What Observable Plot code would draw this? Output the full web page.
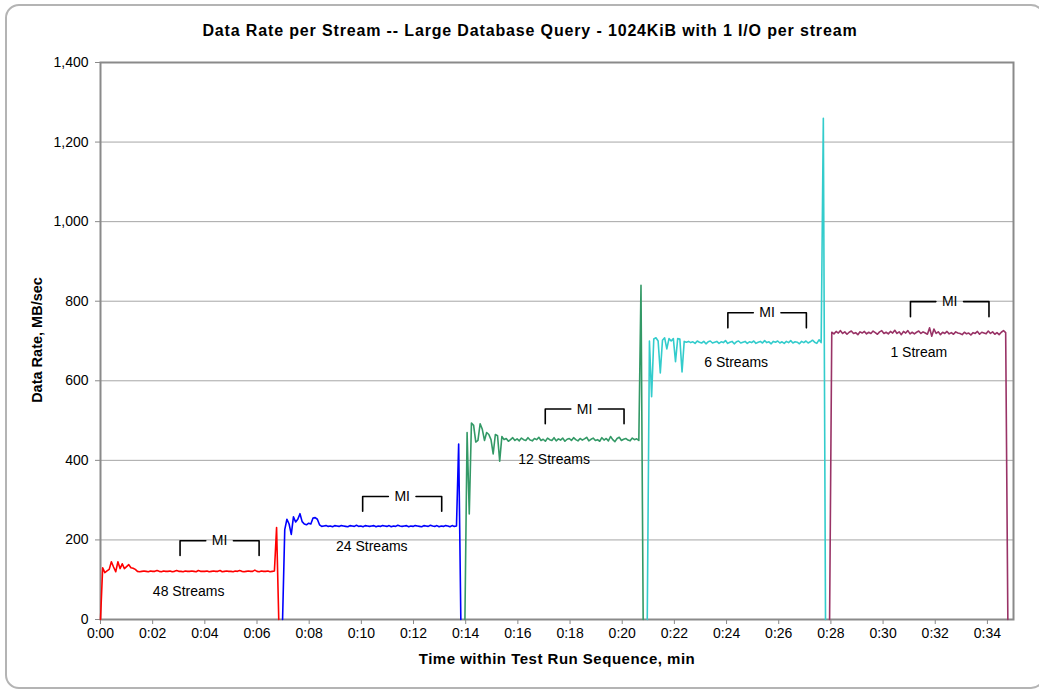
<!DOCTYPE html>
<html><head><meta charset="utf-8">
<script src="https://cdn.jsdelivr.net/npm/d3@7"></script>
<script src="https://cdn.jsdelivr.net/npm/@observablehq/plot@0.6"></script>
<style>
body{margin:0;background:#fff;font-family:"Liberation Sans",Arial,sans-serif;}
#wrap{position:relative;width:1039px;height:690px;overflow:hidden;background:#fff;}
#border{position:absolute;left:5px;top:4px;width:1040px;height:685px;border:2px solid #b4b4b4;border-radius:14px;box-sizing:border-box;}
#title{position:absolute;top:21px;left:0;width:1060px;text-align:center;font-weight:bold;font-size:16px;letter-spacing:0.85px;line-height:20px;}
#xlab{position:absolute;top:650px;left:0;width:1114px;text-align:center;font-weight:bold;font-size:15px;letter-spacing:0.5px;line-height:18px;}
#ylab{position:absolute;left:37px;top:340px;transform:translate(-50%,-50%) rotate(-90deg);white-space:nowrap;font-weight:bold;font-size:14.5px;line-height:18px;}
#chart{position:absolute;left:0;top:0;}
</style>
</head><body>
<div id="wrap">
  <div id="border"></div>
  <div id="chart"></div>
  <div id="title">Data Rate per Stream -- Large Database Query - 1024KiB with 1 I/O per stream</div>
  <div id="xlab">Time within Test Run Sequence, min</div>
  <div id="ylab">Data Rate, MB/sec</div>
</div>
<script>
// ---- data ----
const seriesNames = ["48 Streams", "24 Streams", "12 Streams", "6 Streams", "1 Stream"];
const seriesColors = ["#ff0000", "#0000ff", "#339966", "#33cccc", "#993366"];
const seriesStart = [0, 6.98, 13.97, 20.96, 27.95]; // minutes
const sampleStep = 1 / 12; // 5 s samples, minutes

const red = [0,130,118,122,126,145,132,120,145,128,140,128,133,138,130,129,126,121,
  120,121,122,121,120,122,121,121,123,121,
  120,122,121,121,122,120,121,123,121,121,
  120,122,121,121,122,121,120,123,121,121,
  121,122,120,121,122,121,121,123,120,121,
  122,121,121,120,122,121,123,121,120,121,
  122,121,121,124,121,120,122,121,121,122,
  120,121,122,
  231,0];
const blue = [0,226,252,240,214,258,245,252,266,246,240,238,242,240,255,256,252,238,
  234,235,236,234,235,233,236,235,234,236,
  235,234,233,236,235,234,237,234,235,233,
  236,235,234,235,236,233,235,234,236,235,
  234,236,233,235,234,237,235,234,235,236,
  233,235,234,236,235,234,233,236,235,234,
  237,235,234,236,233,235,234,236,235,233,
  236,234,235,
  441,0];
const green = [0,470,265,494,488,446,450,492,478,450,470,465,452,416,465,462,398,460,452,
  455,448,452,457,450,454,449,456,452,450,
  457,451,449,455,452,458,450,453,448,456,
  452,450,457,449,454,451,456,448,453,455,
  450,457,452,449,455,451,454,458,449,453,
  456,450,452,448,457,451,455,449,460,452,
  447,455,458,450,453,455,451,449,456,452,
  454,450,
  840,0];
const cyan = [0,700,560,705,708,700,620,702,708,680,706,700,706,648,706,705,622,699,697,
  699,696,698,694,700,697,695,699,693,698,
  700,695,697,699,694,698,696,701,694,697,
  699,693,698,700,695,697,699,694,698,696,
  700,694,697,699,695,701,696,698,693,699,
  697,700,695,698,694,699,696,701,695,698,
  697,693,699,696,700,695,698,702,697,694,
  703,696,
  1260,0];
const maroon = [0,
  722,718,724,720,726,719,723,717,722,725,
  719,721,716,723,720,724,718,722,719,725,
  721,717,723,726,719,722,718,724,720,727,
  719,723,716,724,720,726,718,722,718,722,
  725,719,723,720,717,733,712,730,719,723,
  716,722,719,724,718,721,717,723,720,719,
  716,722,718,720,715,721,719,724,717,722,
  720,718,725,719,723,717,721,716,722,726,721,
  0];
const seriesValues = [red, blue, green, cyan, maroon];

// measurement-interval brackets
const miStart = [3.05, 10.05, 17.05, 24.05, 31.05];
const miEnd = [6.08, 13.08, 20.07, 27.06, 34.06];
const miTop = [198, 309, 529, 771, 799];
const miBottom = [161, 272, 492, 733, 761];
const miLabel = "MI";

// series labels
const labelX = [3.38, 10.4, 17.39, 24.37, 31.37];
const labelY = [71, 183, 401, 646, 670];

// axis ticks
const xTicks = [0,2,4,6,8,10,12,14,16,18,20,22,24,26,28,30,32,34];
const yTicks = [0,200,400,600,800,1000,1200,1400];

// ---- build tables ----
const rows = [];
seriesNames.forEach((name, s) => {
  seriesValues[s].forEach((v, i) => rows.push({series: name, t: seriesStart[s] + i * sampleStep, v}));
});
const miGap = 0.53;
const bracketRows = [];
miStart.forEach((a, k) => {
  const b = miEnd[k], m = (a + b) / 2;
  bracketRows.push({id: k + "L", t: a, v: miBottom[k]}, {id: k + "L", t: a, v: miTop[k]}, {id: k + "L", t: m - miGap, v: miTop[k]});
  bracketRows.push({id: k + "R", t: m + miGap, v: miTop[k]}, {id: k + "R", t: b, v: miTop[k]}, {id: k + "R", t: b, v: miBottom[k]});
});
const miRows = miStart.map((a, k) => ({t: (a + miEnd[k]) / 2, v: miTop[k]}));
const labelRows = seriesNames.map((n, k) => ({name: n, t: labelX[k], v: labelY[k]}));

const font = "Liberation Sans, Arial, sans-serif";
const chart = Plot.plot({
  width: 1039, height: 690,
  marginLeft: 100, marginRight: 26, marginTop: 62, marginBottom: 71,
  style: {fontFamily: font, background: "transparent", color: "#000"},
  x: {domain: [0, 35]},
  y: {domain: [0, 1400]},
  color: {domain: seriesNames, range: seriesColors},
  marks: [
    Plot.ruleY(yTicks.filter(d => d > 0), {stroke: "#a6a6a6", strokeWidth: 1}),
    Plot.axisX(xTicks, {tickFormat: d => "0:" + String(d).padStart(2, "0"), tickSize: 5, tickPadding: 4, stroke: "#8a8a8a", fill: "#000", fontSize: 14, label: null}),
    Plot.axisY(yTicks, {tickFormat: d3.format(","), tickSize: 5, tickPadding: 7, stroke: "#8a8a8a", fill: "#000", fontSize: 14, label: null}),
    Plot.frame({stroke: "#8a8a8a", strokeWidth: 2}),
    Plot.line(rows, {x: "t", y: "v", z: "series", stroke: "series", strokeWidth: 1.6, curve: "linear"}),
    Plot.line(bracketRows, {x: "t", y: "v", z: "id", stroke: "#000", strokeWidth: 1.6}),
    Plot.text(miRows, {x: "t", y: "v", text: () => miLabel, fontSize: 14, fill: "#000"}),
    Plot.text(labelRows, {x: "t", y: "v", text: "name", fontSize: 14, fill: "#000"})
  ]
});
document.getElementById("chart").appendChild(chart);
</script>
</body></html>
